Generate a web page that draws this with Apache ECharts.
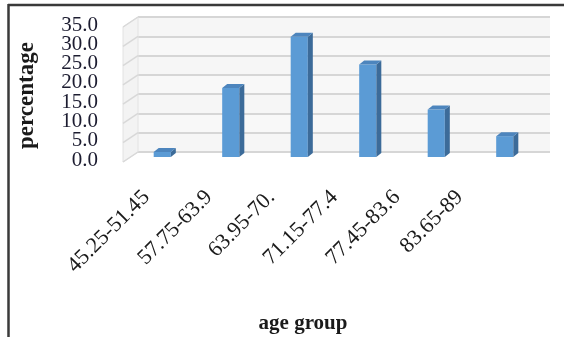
<!DOCTYPE html>
<html>
<head>
<meta charset="utf-8">
<script src="https://cdn.jsdelivr.net/npm/echarts@6/dist/echarts.min.js"></script>
<style>
html,body{margin:0;padding:0;background:#fff;}
#chart{width:564px;height:337px;}
</style>
</head>
<body>
<div id="chart"></div>
<script>
// ---- data ----
var categories = ['45.25-51.45', '57.75-63.9', '63.95-70.', '71.15-77.4', '77.45-83.6', '83.65-89'];
var percentages = [1.3, 17.9, 31.2, 24.0, 12.3, 5.4];
var yTicks = [0, 5, 10, 15, 20, 25, 30, 35];
var yAxisTitle = 'percentage';
var xAxisTitle = 'age group';

// ---- chart ----
var chart = echarts.init(document.getElementById('chart'), null, {renderer: 'canvas'});
var serif = '"Liberation Serif", "Times New Roman", serif';
var DX = 5, DY = 4;          // bar depth
var WX = 10, WY = 5;         // bar plane -> back wall
var FX = 5, FY = 5;          // bar plane -> front edge of side wall

var option = {
  animation: false,
  backgroundColor: '#fff',
  grid: [
    {left: 128, right: 25, top: 22, bottom: 180},   // bar plane
    {left: 138, right: 14, top: 17, bottom: 185},   // back wall
    {left: 115, width: 376, top: 22, bottom: 147},  // label axis
    {left: 128, right: 25, top: 28, bottom: 174}    // title axis
  ],
  xAxis: [
    {gridIndex: 0, type: 'category', data: categories, axisLine: {show: false}, axisTick: {show: false}, axisLabel: {show: false}},
    {gridIndex: 1, type: 'category', data: categories, show: false},
    {gridIndex: 2, type: 'category', data: categories, axisLine: {show: false}, axisTick: {show: false},
      axisLabel: {rotate: 45, margin: 4, fontFamily: serif, fontSize: 22, color: '#1a1a1a', interval: 0},
      name: xAxisTitle, nameLocation: 'middle', nameGap: 123,
      nameTextStyle: {fontFamily: serif, fontWeight: 'bold', fontSize: 21, color: '#1a1a1a'}},
    {gridIndex: 3, type: 'category', data: categories, show: false}
  ],
  yAxis: [
    {gridIndex: 0, type: 'value', min: 0, max: 35, interval: 5,
      axisLine: {show: false}, axisTick: {show: false}, splitLine: {show: false},
      axisLabel: {show: false}},
    {gridIndex: 1, type: 'value', min: 0, max: 35, interval: 5,
      axisLine: {show: false}, axisTick: {show: false}, axisLabel: {show: false},
      splitLine: {show: true, lineStyle: {color: '#d6d6d6', width: 2}},
      splitArea: {show: true, areaStyle: {color: ['#f6f6f6', '#f8f8f8']}}},
    {gridIndex: 2, type: 'value', min: 0, max: 35, show: false},
    {gridIndex: 3, type: 'value', min: 0, max: 35, interval: 5,
      axisLine: {show: false}, axisTick: {show: false}, splitLine: {show: false}, axisLabel: {show: false},
      name: yAxisTitle, nameLocation: 'middle', nameRotate: 90, nameGap: 89,
      nameTextStyle: {fontFamily: serif, fontWeight: 'bold', fontSize: 23, color: '#1a1a1a'}}
  ],
  graphic: [
    {type: 'line', shape: {x1: 8, y1: 5, x2: 564, y2: 5}, style: {stroke: '#3a3a3a', lineWidth: 2.5}, z: 100},
    {type: 'line', shape: {x1: 8.5, y1: 4, x2: 8.5, y2: 337}, style: {stroke: '#3a3a3a', lineWidth: 2.5}, z: 100}
  ],
  series: [
    {
      // side wall + y tick labels, one item per tick
      type: 'custom', xAxisIndex: 0, yAxisIndex: 0, z: 1,
      data: yTicks.map(function (v) { return [0, v]; }),
      renderItem: function (params, api) {
        var left = params.coordSys.x;
        var v = api.value(1);
        var y = api.coord([0, v])[1];
        var children = [{
          type: 'line',
          shape: {x1: left - FX, y1: y + FY, x2: left + WX, y2: y - WY},
          style: {stroke: '#d8d8d8', lineWidth: 1.5}
        }, {
          type: 'text',
          style: {x: left - 30, y: y + 3, text: v.toFixed(1), align: 'right', verticalAlign: 'middle',
            font: '21px ' + serif, fill: '#1c1c30'}
        }];
        if (v === 0) {
          var yt = api.coord([0, 35])[1];
          children.unshift({
            type: 'polygon',
            shape: {points: [[left - FX, yt + FY], [left + WX, yt - WY], [left + WX, y - WY], [left - FX, y + FY]]},
            style: {fill: '#f3f3f3', stroke: '#e2e2e2', lineWidth: 1}
          });
        }
        return {type: 'group', children: children};
      }
    },
    {
      type: 'custom', xAxisIndex: 0, yAxisIndex: 0, z: 5,
      data: percentages.map(function (v, i) { return [i, v]; }),
      renderItem: function (params, api) {
        var top = api.coord([api.value(0), api.value(1)]);
        var base = api.coord([api.value(0), 0]);
        var w = api.size([1, 0])[0] * 0.25;
        var x0 = top[0] - w / 2, x1 = top[0] + w / 2;
        var yt = top[1], yb = base[1];
        return {
          type: 'group',
          children: [
            {type: 'rect', shape: {x: x0, y: yt, width: w, height: yb - yt}, style: {fill: '#5b9bd5'}},
            {type: 'polygon', shape: {points: [[x1, yt], [x1 + DX, yt - DY], [x1 + DX, yb - DY], [x1, yb]]}, style: {fill: '#3c6b99'}},
            {type: 'polygon', shape: {points: [[x0, yt], [x0 + DX, yt - DY], [x1 + DX, yt - DY], [x1, yt]]}, style: {fill: '#4d85bd'}}
          ]
        };
      }
    }
  ]
};
chart.setOption(option);
</script>
</body>
</html>
